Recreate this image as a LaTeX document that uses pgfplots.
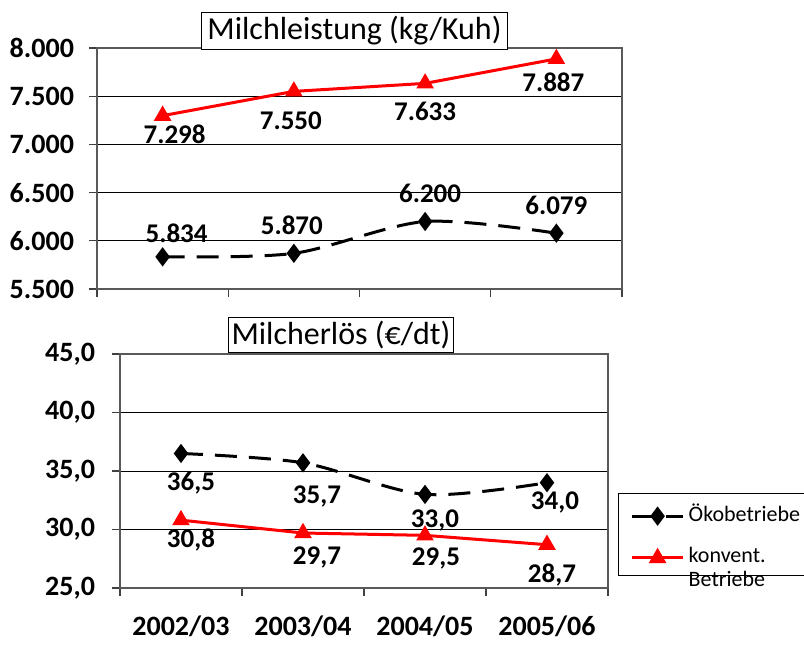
\documentclass[border=0pt]{standalone}
\usepackage{fontspec}
\setmainfont{Carlito}
\usepackage{pgfplots}
\usepackage{pgfplotstable}
\pgfplotsset{compat=1.18}

\newcommand\tickfont{\fontsize{14}{16}\selectfont\bfseries}
\newcommand\labfont{\fontsize{13.5}{15}\selectfont\bfseries}
\newcommand\titlefont{\fontsize{16}{18}\selectfont}
\newcommand\legfont{\fontsize{11}{12}\selectfont}

% x, y, label, label offset (pt)
\pgfplotstableread{
x y lab dx dy
1 7298 7.298 6 -9.5
2 7550 7.550 -1.5 -14.5
3 7633 7.633 0 -14
4 7887 7.887 -1.5 -11.5
}\topKonv
\pgfplotstableread{
x y lab dx dy
1 5834 5.834 7 12
2 5870 5.870 -1 14
3 6200 6.200 2.5 14
4 6079 6.079 0 14
}\topOeko
\pgfplotstableread{
x y lab dx dy
1 30.8 30,8 5 -10
2 29.7 29,7 7 -12
3 29.5 29,5 5.5 -11.5
4 28.7 28,7 2.5 -15
}\botKonv
\pgfplotstableread{
x y lab dx dy
1 36.5 36,5 5 -15
2 35.7 35,7 7 -17
3 33.0 33,0 5 -13
4 34.0 34,0 4 -10
}\botOeko

\pgfplotsset{
  panel/.style={
    scale only axis,
    xmin=0.5, xmax=4.5,
    xtick={0.5,1.5,2.5,3.5,4.5}, xticklabels={},
    xtick pos=lower, ytick pos=left,
    tick align=outside, major tick length=4pt,
    tick style={black!75, line width=0.6pt},
    axis line style={draw=black!65, line width=0.6pt},
    ymajorgrids, grid style={black, line width=0.5pt},
    scaled y ticks=false,
    /pgf/number format/assume math mode=true,
    yticklabel style={font=\tickfont, xshift=-4pt},
  },
  lbl/.style={
    nodes near coords, point meta=explicit symbolic,
    visualization depends on={\thisrow{dx}\as\dx},
    visualization depends on={\thisrow{dy}\as\dy},
    every node near coord/.append style={anchor=center,
      xshift=\dx pt, yshift=\dy pt, text=black, font=\labfont},
  },
  konv/.style={red, line width=1.5pt, mark=triangle*, mark size=3.6pt,
    mark options={solid}},
  oeko/.style={black, line width=1.5pt, dash pattern=on 11pt off 6pt,
    smooth, mark=diamond*, mark size=3.6pt, mark options={solid}},
}

\begin{document}
\begin{tikzpicture}
\useasboundingbox (0,0) rectangle (402pt,322pt);

\begin{axis}[panel,
  at={(48.5pt,177.5pt)}, anchor=south west,
  width=262.5pt, height=120.5pt,
  ymin=5500, ymax=8000, ytick={5500,6000,...,8000},
  yticklabel style={/pgf/number format/.cd, fixed, 1000 sep={.}},
]
  \addplot[konv, lbl] table[x=x, y=y, meta=lab] {\topKonv};
  \addplot[oeko, lbl] table[x=x, y=y, meta=lab] {\topOeko};
\end{axis}

\begin{axis}[panel,
  at={(60pt,28pt)}, anchor=south west,
  width=244pt, height=117pt,
  ymin=25, ymax=45, ytick={25,30,...,45},
  yticklabel style={xshift=-1pt, /pgf/number format/.cd, fixed, fixed zerofill,
    precision=1, use comma},
  extra x ticks={1,2,3,4},
  extra x tick labels={2002/03,2003/04,2004/05,2005/06},
  extra x tick style={major tick length=0pt,
    xticklabel style={font=\tickfont, anchor=center, yshift=-19pt}},
  legend style={at={(1.0205,0.406)}, anchor=north west,
    draw=black, line width=0.5pt, font=\legfont,
    inner xsep=6pt, inner ysep=3pt, row sep=7pt,
    cells={anchor=base west}},
  legend image code/.code={
    \draw[mark repeat=2, mark phase=2, #1]
      plot coordinates {(0cm,0.25em) (0.45cm,0.25em) (0.9cm,0.25em)};},
]
  \addplot[oeko, lbl] table[x=x, y=y, meta=lab] {\botOeko};
  \addlegendentry{\makebox[62pt][l]{Ökobetriebe}}
  \addplot[konv, lbl] table[x=x, y=y, meta=lab] {\botKonv};
  \addlegendentry{\begin{tabular}[t]{@{}l@{}}konvent.\\Betriebe\end{tabular}}
\end{axis}

\node[draw=black, fill=white, line width=0.5pt, inner xsep=3pt, inner ysep=2pt,
  font=\titlefont] at (177.25pt,306.5pt) {Milchleistung (kg/Kuh)};
\node[draw=black, fill=white, line width=0.5pt, inner xsep=1.5pt, inner ysep=2pt,
  font=\titlefont] at (170.5pt,154.5pt) {Milcherlös (€/dt)};
\end{tikzpicture}
\end{document}
